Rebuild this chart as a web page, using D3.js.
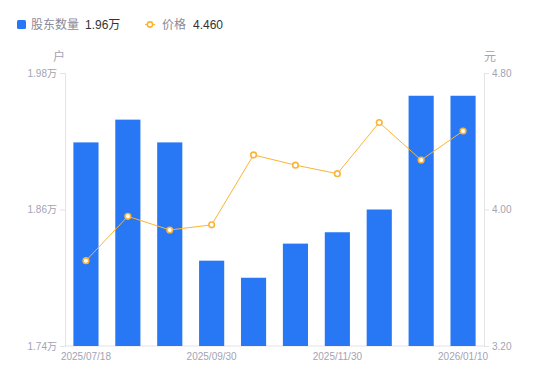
<!DOCTYPE html>
<html><head><meta charset="utf-8">
<script src="https://cdn.jsdelivr.net/npm/d3@7/dist/d3.min.js"></script>
<style>
body{margin:0;background:#fff;}
text{font-family:"Liberation Sans",Arial,"Noto Sans CJK SC",sans-serif;}
</style></head>
<body><svg id="c" width="550" height="381"></svg>
<script>
const categories = ["2025/07/18","2025/07/31","2025/08/29","2025/09/30","2025/10/20","2025/10/31","2025/11/30","2025/12/10","2025/12/31","2026/01/10"];
const holders = [1.919, 1.939, 1.919, 1.815, 1.800, 1.830, 1.840, 1.860, 1.960, 1.960]; // 万户
const prices = [3.70, 3.96, 3.88, 3.91, 4.32, 4.26, 4.21, 4.51, 4.29, 4.46];
const leftTicks = [1.74, 1.86, 1.98];
const rightTicks = [3.20, 4.00, 4.80];
const xLabelIdx = [0, 3, 6, 9];

const svg = d3.select("#c");
const L = 65, R = 484, T = 73, B = 346;
const x = d3.scaleBand().domain(categories).range([L, R]).paddingInner(0.4).paddingOuter(0.2);
const yL = d3.scaleLinear().domain([1.74, 1.98]).range([B, T]);
const yR = d3.scaleLinear().domain([3.20, 4.80]).range([B, T]);
const axisCol = "#e3e3e8", txtCol = "#a3a3b3";

// axes
const gl = svg.append("g").attr("transform", `translate(${L},0)`)
  .call(d3.axisLeft(yL).tickValues(leftTicks).tickSize(5).tickPadding(3).tickFormat(d => d3.format(".2f")(d) + "万"));
const gr = svg.append("g").attr("transform", `translate(${R},0)`)
  .call(d3.axisRight(yR).tickValues(rightTicks).tickSize(5).tickPadding(3).tickFormat(d3.format(".2f")));
const gb = svg.append("g").attr("transform", `translate(0,${B})`)
  .call(d3.axisBottom(x).tickValues(xLabelIdx.map(i => categories[i])).tickSize(0).tickPadding(7));
[gl, gr, gb].forEach(g => {
  g.selectAll("path.domain").attr("stroke", axisCol);
  g.selectAll("line").attr("stroke", axisCol);
  g.selectAll("text").attr("fill", txtCol).attr("font-size", 10);
});
gb.selectAll("path.domain").attr("d", `M${L},0H${R}`);

// units
svg.append("text").attr("x", 59).attr("y", 61).attr("text-anchor", "middle").attr("font-size", 12).attr("fill", txtCol).text("户");
svg.append("text").attr("x", 490).attr("y", 61).attr("text-anchor", "middle").attr("font-size", 12).attr("fill", txtCol).text("元");

// bars
svg.append("g").selectAll("rect").data(categories).join("rect")
  .attr("x", d => x(d)).attr("width", x.bandwidth())
  .attr("y", (d, i) => yL(holders[i])).attr("height", (d, i) => B - yL(holders[i]))
  .attr("fill", "#2878f5");

// line
const cx = d => x(d) + x.bandwidth() / 2;
svg.append("path").datum(categories)
  .attr("d", d3.line().x(cx).y((d, i) => yR(prices[i])))
  .attr("fill", "none").attr("stroke", "#fbb437").attr("stroke-width", 1);
svg.append("g").selectAll("circle").data(categories).join("circle")
  .attr("cx", cx).attr("cy", (d, i) => yR(prices[i])).attr("r", 2.8)
  .attr("fill", "#fff").attr("stroke", "#fbb437").attr("stroke-width", 1.6);

// legend
const lg = svg.append("g");
lg.append("rect").attr("x", 17).attr("y", 20).attr("width", 9).attr("height", 9).attr("rx", 1.5).attr("fill", "#2878f5");
lg.append("text").attr("x", 31).attr("y", 29).attr("font-size", 12).attr("fill", "#8a8a99").text("股东数量");
lg.append("text").attr("x", 85).attr("y", 29).attr("font-size", 12).attr("fill", "#333").text(d3.format(".2f")(holders[holders.length-1]) + "万");
lg.append("line").attr("x1", 145).attr("x2", 155).attr("y1", 24.5).attr("y2", 24.5).attr("stroke", "#fbb437").attr("stroke-width", 1.2);
lg.append("circle").attr("cx", 150).attr("cy", 24.5).attr("r", 2.6).attr("fill", "#fff").attr("stroke", "#fbb437").attr("stroke-width", 1.6);
lg.append("text").attr("x", 162).attr("y", 29).attr("font-size", 12).attr("fill", "#8a8a99").text("价格");
lg.append("text").attr("x", 193).attr("y", 29).attr("font-size", 12).attr("fill", "#333").text(d3.format(".3f")(prices[prices.length-1]));
</script></body></html>
